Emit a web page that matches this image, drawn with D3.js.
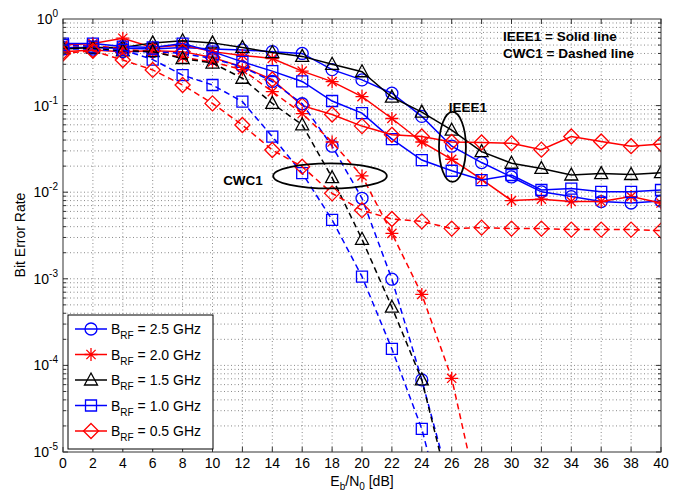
<!DOCTYPE html>
<html><head><meta charset="utf-8">
<script src="https://cdn.jsdelivr.net/npm/d3@7"></script>
<style>
body{margin:0;background:#fff}
text{font-family:"Liberation Sans",Arial,sans-serif;fill:#000}
</style>
</head><body>
<svg id="chart" width="681" height="495"></svg>
<script>
// ---- data ----
const snr = [0,2,4,6,8,10,12,14,16,18,20,22,24,26,28,30,32,34,36,38,40];
const bandwidths = ["2.5","2.0","1.5","1.0","0.5"];
const markers = ["circle","star","triangle","square","diamond"];
const colors = ["#0000ff","#ff0000","#000000","#0000ff","#ff0000"];

// IEEE1 (solid lines)
const ieee25 = [0.47,0.47,0.46,0.45,0.47,0.45,0.44,0.42,0.40,0.26,0.198,0.139,0.075,0.034,0.022,0.015,0.0101,0.0089,0.0078,0.0075,0.0079];
const ieee20 = [0.50,0.52,0.60,0.47,0.50,0.42,0.38,0.35,0.25,0.189,0.127,0.071,0.038,0.024,0.0141,0.008,0.0083,0.0078,0.0078,0.0089,0.0075];
const ieee15 = [0.45,0.47,0.47,0.53,0.56,0.53,0.47,0.41,0.37,0.30,0.246,0.125,0.084,0.052,0.0294,0.0216,0.0188,0.0158,0.0164,0.016,0.0168];
const ieee10 = [0.52,0.52,0.48,0.47,0.52,0.42,0.32,0.25,0.19,0.113,0.082,0.041,0.0235,0.0177,0.0138,0.0158,0.0106,0.011,0.0101,0.0101,0.0106];
const ieee05 = [0.42,0.44,0.42,0.43,0.42,0.36,0.28,0.20,0.10,0.079,0.058,0.046,0.044,0.038,0.0375,0.0367,0.031,0.044,0.0385,0.034,0.036];

// CWC1 (dashed lines)
const cwc25 = [0.45,0.45,0.42,0.42,0.40,0.35,0.28,0.19,0.105,0.034,0.0085,0.00099,6.8e-5,3.5e-6];
const cwc20 = [0.48,0.50,0.45,0.42,0.36,0.32,0.26,0.145,0.081,0.038,0.0154,0.00335,0.00066,7.1e-5,2e-6];
const cwc15 = [0.46,0.46,0.43,0.42,0.35,0.31,0.207,0.106,0.06,0.0147,0.00286,0.00047,6.8e-5,2.8e-6];
const cwc10 = [0.50,0.48,0.44,0.34,0.225,0.173,0.111,0.0438,0.0166,0.0048,0.00106,0.000155,1.85e-5,8.7e-7];
const cwc05 = [0.40,0.43,0.336,0.258,0.173,0.106,0.0597,0.0307,0.0197,0.0097,0.0062,0.0049,0.0046,0.0038,0.0039,0.0038,0.0038,0.0037,0.0037,0.0037,0.0036];

const xTicks = d3.range(0,41,2);
const yDecades = [1,1e-1,1e-2,1e-3,1e-4,1e-5];
const yExps = ["0","-1","-2","-3","-4","-5"];

// ---- layout ----
const L=63,R=661,T=19,B=452;
const svg = d3.select("#chart");
const x = d3.scaleLinear().domain([0,40]).range([L,R]);
const y = d3.scaleLog().domain([1e-5,1]).range([B,T]);

svg.append("rect").attr("x",0).attr("y",0).attr("width",681).attr("height",495).attr("fill","#fff");

// grid
const gridG = svg.append("g").attr("stroke","#8a8a8a").attr("stroke-width",1).attr("stroke-dasharray","1,2.5");
xTicks.forEach(t=>{ if(t>0&&t<40) gridG.append("line").attr("x1",x(t)).attr("x2",x(t)).attr("y1",T).attr("y2",B); });
const minorVals=[];
for(let e=-5;e<0;e++){ for(let m=1;m<10;m++){ minorVals.push(m*Math.pow(10,e)); } }
minorVals.forEach(v=>{ if(v>1e-5 && v<1) gridG.append("line").attr("x1",L).attr("x2",R).attr("y1",y(v)).attr("y2",y(v)); });

// data
svg.append("clipPath").attr("id","clip").append("rect").attr("x",L).attr("y",T).attr("width",R-L).attr("height",B-T);
const dataG = svg.append("g").attr("clip-path","url(#clip)");

function markerPath(type){
  switch(type){
    case "circle": return d3.symbol().type(d3.symbolCircle).size(Math.PI*6*6)();
    case "square": return "M-5.5,-5.5H5.5V5.5H-5.5Z";
    case "triangle": return "M0,-7L6.5,5L-6.5,5Z";
    case "diamond": return "M0,-7.5L7.5,0L0,7.5L-7.5,0Z";
    case "star": return "M0,-6.5V6.5M-6.5,0H6.5M-4.6,-4.6L4.6,4.6M-4.6,4.6L4.6,-4.6";
  }
}

const ieeeSeries=[ieee25,ieee20,ieee15,ieee10,ieee05];
const cwcSeries=[cwc25,cwc20,cwc15,cwc10,cwc05];
const line = d3.line().x(d=>x(d[0])).y(d=>y(d[1]));

function drawSeries(vals,i,dashed){
  const pts = vals.map((v,j)=>[snr[j],v]);
  dataG.append("path").datum(pts).attr("d",line).attr("fill","none")
    .attr("stroke",colors[i]).attr("stroke-width",1.5)
    .attr("stroke-dasharray",dashed?"6,4":null);
  dataG.selectAll(null).data(pts.filter(p=>p[1]>=1e-5)).enter().append("path")
    .attr("d",markerPath(markers[i]))
    .attr("transform",d=>`translate(${x(d[0])},${y(d[1])})`)
    .attr("fill","none").attr("stroke",colors[i]).attr("stroke-width",1.3);
}
ieeeSeries.forEach((s,i)=>drawSeries(s,i,false));
cwcSeries.forEach((s,i)=>drawSeries(s,i,true));

// axes box & ticks
const axG = svg.append("g").attr("stroke","#333").attr("stroke-width",1).attr("fill","none");
axG.append("rect").attr("x",L).attr("y",T).attr("width",R-L).attr("height",B-T);
xTicks.forEach(t=>{
  axG.append("line").attr("x1",x(t)).attr("x2",x(t)).attr("y1",B).attr("y2",B-5);
  axG.append("line").attr("x1",x(t)).attr("x2",x(t)).attr("y1",T).attr("y2",T+5);
});
minorVals.forEach(v=>{
  if(v<1e-5||v>1) return;
  const major = Math.abs(Math.log10(v)-Math.round(Math.log10(v)))<1e-9;
  const len = major?5:3;
  axG.append("line").attr("x1",L).attr("x2",L+len).attr("y1",y(v)).attr("y2",y(v));
  axG.append("line").attr("x1",R).attr("x2",R-len).attr("y1",y(v)).attr("y2",y(v));
});

// tick labels
const tl = svg.append("g").attr("font-size",14);
xTicks.forEach(t=>{
  tl.append("text").attr("x",x(t)).attr("y",468).attr("text-anchor","middle").text(t);
});
yDecades.forEach((v,i)=>{
  const t = tl.append("text").attr("x",58).attr("y",y(v)+5).attr("text-anchor","end");
  t.append("tspan").text("10");
  t.append("tspan").attr("dy",-7).attr("font-size",10).text(yExps[i]);
});

// axis labels
const xl = svg.append("text").attr("x",362).attr("y",486).attr("text-anchor","middle").attr("font-size",14);
xl.append("tspan").text("E");
xl.append("tspan").attr("dy",4).attr("font-size",10).text("b");
xl.append("tspan").attr("dy",-4).text("/N");
xl.append("tspan").attr("dy",4).attr("font-size",10).text("0");
xl.append("tspan").attr("dy",-4).text(" [dB]");
svg.append("text").attr("transform","translate(25,235) rotate(-90)").attr("text-anchor","middle").attr("font-size",14).text("Bit Error Rate");

// annotations
const ann = svg.append("g").attr("font-size",13.5).attr("font-weight","bold");
ann.append("text").attr("x",503).attr("y",41).text("IEEE1 = Solid line");
ann.append("text").attr("x",503).attr("y",58).text("CWC1 = Dashed line");
ann.append("text").attr("x",468).attr("y",112).attr("text-anchor","middle").text("IEEE1");
ann.append("text").attr("x",243).attr("y",185).attr("text-anchor","middle").text("CWC1");

const ellipses = [{cx:17.86,cy:0.0154,rx:3.8,ry:12.5},{cx:26.05,cy:0.0333,rx:0.9,ry:35}];
ellipses.forEach(e=>{
  svg.append("ellipse").attr("cx",x(e.cx)).attr("cy",y(e.cy))
    .attr("rx",x(e.rx)-x(0)).attr("ry",e.ry)
    .attr("fill","none").attr("stroke","#000").attr("stroke-width",1.8);
});

// legend
const lg = svg.append("g");
lg.append("rect").attr("x",68).attr("y",315).attr("width",145).attr("height",134)
  .attr("fill","#fff").attr("stroke","#000").attr("stroke-width",1);
bandwidths.forEach((b,i)=>{
  const yy = 329 + i*25.5;
  lg.append("line").attr("x1",75).attr("x2",107).attr("y1",yy).attr("y2",yy)
    .attr("stroke",colors[i]).attr("stroke-width",1.5);
  lg.append("path").attr("d",markerPath(markers[i])).attr("transform",`translate(91,${yy})`)
    .attr("fill","none").attr("stroke",colors[i]).attr("stroke-width",1.3);
  const t = lg.append("text").attr("x",111).attr("y",yy+5).attr("font-size",14);
  t.append("tspan").text("B");
  t.append("tspan").attr("dy",5).attr("font-size",10).text("RF");
  t.append("tspan").attr("dy",-5).text(` = ${b} GHz`);
});
</script>
</body></html>
